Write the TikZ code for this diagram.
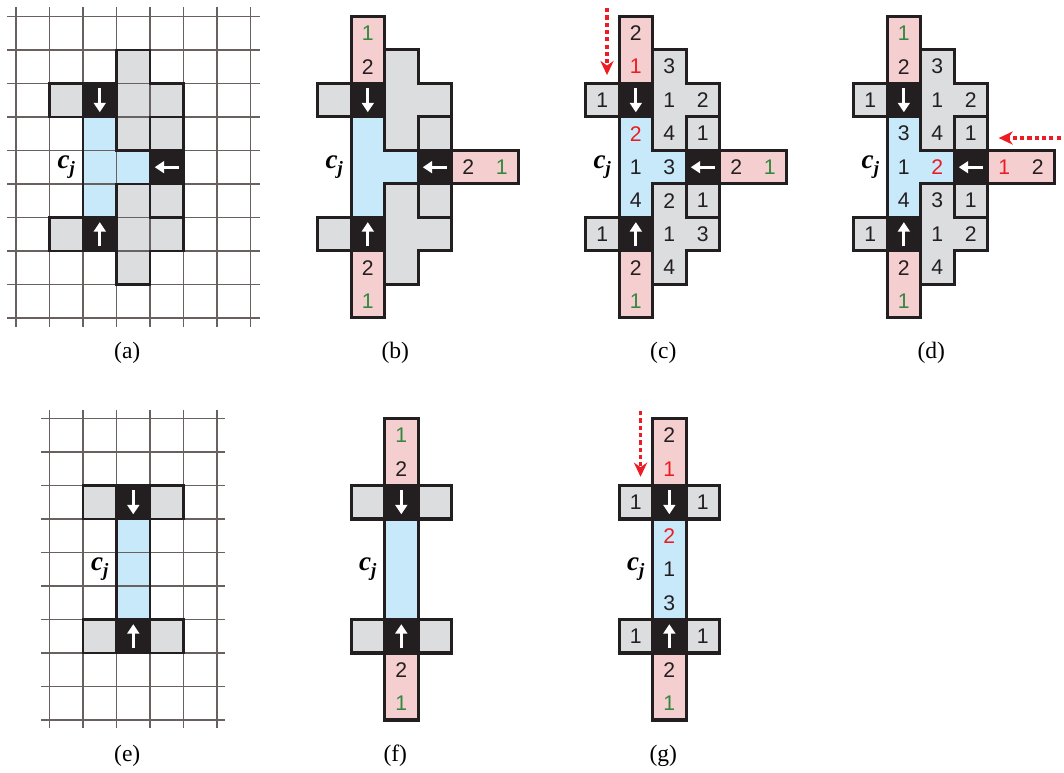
\documentclass[tikz,border=0pt]{standalone}
\usepackage{fontspec}
\setmainfont{Liberation Serif}
\setsansfont{Liberation Sans}
\usetikzlibrary{arrows.meta}
\definecolor{ink}{RGB}{35,31,32}
\definecolor{cellgray}{RGB}{220,221,223}
\definecolor{cellblue}{RGB}{199,233,249}
\definecolor{cellpink}{RGB}{245,206,207}
\definecolor{numgreen}{RGB}{52,135,62}
\definecolor{numred}{RGB}{237,28,36}
\definecolor{gridgray}{RGB}{105,96,96}
% cell regions, in cells, relative to the panel corner
\newcommand\tshapegray{(1,2) rectangle (2,3) (1,6) rectangle (2,7) (4,3) rectangle (5,4) (4,5) rectangle (5,6)
  (3,1) -- (4,1) -- (4,2) -- (5,2) -- (5,3) -- (4,3) -- (4,4) -- (3,4) -- cycle
  (3,5) -- (4,5) -- (4,6) -- (5,6) -- (5,7) -- (4,7) -- (4,8) -- (3,8) -- cycle}
\newcommand\tshapeblue{(2,3) -- (3,3) -- (3,4) -- (4,4) -- (4,5) -- (3,5) -- (3,6) -- (2,6) -- cycle}
\newcommand\tshapeblack{(2,2) rectangle (3,3) (4,4) rectangle (5,5) (2,6) rectangle (3,7)}
\newcommand\tshapepink{(2,0) rectangle (3,2) (5,4) rectangle (7,5) (2,7) rectangle (3,9)}
\newcommand\ishapegray{(2,2) rectangle (3,3) (4,2) rectangle (5,3) (2,6) rectangle (3,7) (4,6) rectangle (5,7)}
\newcommand\ishapeblue{(3,3) rectangle (4,6)}
\newcommand\ishapeblack{(3,2) rectangle (4,3) (3,6) rectangle (4,7)}
\newcommand\ishapepink{(3,0) rectangle (4,2) (3,7) rectangle (4,9)}
\newcommand\cjlabel{c\raisebox{-0.45ex}{\fontsize{8}{9}\selectfont j}}
\tikzset{
  >={Stealth[length=6pt,width=5.6pt]},
  wall/.style={draw=ink,line width=1.3pt,line join=miter},
  gridline/.style={draw=gridgray,line width=0.6pt},
  num/.style={font=\sffamily\fontsize{9}{11}\selectfont,text=#1,inner sep=0pt},
  num/.default=ink,
  tag/.style={font=\fontsize{10}{12}\selectfont,inner sep=0pt},
  cj/.style={font=\rmfamily\fontsize{11.5}{13}\selectfont\bfseries\itshape,inner sep=0pt},
  way/.style={-{Triangle[length=4pt,width=5pt]},draw=white,line width=1.3pt},
  hint/.style={->,draw=numred,line width=1.6pt,dash pattern=on 1.8pt off 1.3pt},
}

\begin{document}
\begin{tikzpicture}[x=0.5cm,y=-0.5cm]
  \useasboundingbox (-0.478,-0.49) rectangle (31.28,22.58);
  % top row: (a)-(d)
  \foreach \ox/\lab in {0/a,8/b,16/c,24/d}{
    \begin{scope}[shift={(\ox,0)}]
      \fill[cellgray] \tshapegray;
      \fill[cellblue] \tshapeblue;
      \fill[ink] \tshapeblack;
      \ifnum\ox=0
        \foreach \i in {0,...,7} \draw[gridline] (\i,-0.27) -- (\i,9.27);
        \foreach \j in {0,...,9} \draw[gridline] (-0.27,\j) -- (7.27,\j);
        \draw[wall,line width=0.95pt] \tshapegray \tshapeblue \tshapeblack;
      \else
        \fill[cellpink] \tshapepink;
        \draw[wall] \tshapegray \tshapeblue \tshapeblack \tshapepink;
      \fi
      \draw[way] (2.5,2.14) -- (2.5,2.86);
      \draw[way] (4.86,4.5) -- (4.14,4.5);
      \draw[way] (2.5,6.86) -- (2.5,6.14);
      \node[cj] (cj-\lab) at (1.5,4.5) {\cjlabel};
      \node[tag] (tag-\lab) at (3.32,10.03) {(\lab)};
    \end{scope}
  }
  % bottom row: (e)-(g)
  \foreach \ox/\lab in {0/e,8/f,16/g}{
    \begin{scope}[shift={(\ox,12)}]
      \fill[cellgray] \ishapegray;
      \fill[cellblue] \ishapeblue;
      \fill[ink] \ishapeblack;
      \ifnum\ox=0
        \foreach \i in {1,...,6} \draw[gridline] (\i,-0.25) -- (\i,9.25);
        \foreach \j in {0,...,9} \draw[gridline] (0.75,\j) -- (6.25,\j);
        \draw[wall,line width=0.95pt] \ishapegray \ishapeblue \ishapeblack;
      \else
        \fill[cellpink] \ishapepink;
        \draw[wall] \ishapegray \ishapeblue \ishapeblack \ishapepink;
      \fi
      \draw[way] (3.5,2.14) -- (3.5,2.86);
      \draw[way] (3.5,6.86) -- (3.5,6.14);
      \node[cj] (cj-\lab) at (2.5,4.5) {\cjlabel};
      \node[tag] (tag-\lab) at (3.32,10.07) {(\lab)};
    \end{scope}
  }
  % cell values
  \begin{scope}[shift={(8,0)}]
    \foreach \x/\y/\n/\c in {2/0/1/numgreen,2/1/2/ink,5/4/2/ink,6/4/1/numgreen,2/7/2/ink,2/8/1/numgreen}
      \node[num=\c] (b-\x-\y) at (\x+0.5,\y+0.5) {\n};
  \end{scope}
  \begin{scope}[shift={(16,0)}]
    \foreach \x/\y/\n/\c in {2/0/2/ink,2/1/1/numred,1/2/1/ink,3/1/3/ink,3/2/1/ink,4/2/2/ink,3/3/4/ink,4/3/1/ink,
      2/3/2/numred,2/4/1/ink,3/4/3/ink,2/5/4/ink,5/4/2/ink,6/4/1/numgreen,4/5/1/ink,3/5/2/ink,
      3/6/1/ink,4/6/3/ink,3/7/4/ink,1/6/1/ink,2/7/2/ink,2/8/1/numgreen}
      \node[num=\c] (c-\x-\y) at (\x+0.5,\y+0.5) {\n};
    \coordinate (c-from) at (1.64,-0.25);
    \coordinate (c-to) at (1.64,1.75);
    \draw[hint] (c-from) -- (c-to);
  \end{scope}
  \begin{scope}[shift={(24,0)}]
    \foreach \x/\y/\n/\c in {2/0/1/numgreen,2/1/2/ink,1/2/1/ink,3/1/3/ink,3/2/1/ink,4/2/2/ink,3/3/4/ink,4/3/1/ink,
      2/3/3/ink,2/4/1/ink,3/4/2/numred,2/5/4/ink,5/4/1/numred,6/4/2/ink,4/5/1/ink,3/5/3/ink,
      3/6/1/ink,4/6/2/ink,3/7/4/ink,1/6/1/ink,2/7/2/ink,2/8/1/numgreen}
      \node[num=\c] (d-\x-\y) at (\x+0.5,\y+0.5) {\n};
    \coordinate (d-from) at (7.4,3.63);
    \coordinate (d-to) at (5.33,3.63);
    \draw[hint] (d-from) -- (d-to);
  \end{scope}
  \begin{scope}[shift={(8,12)}]
    \foreach \x/\y/\n/\c in {3/0/1/numgreen,3/1/2/ink,3/7/2/ink,3/8/1/numgreen}
      \node[num=\c] (f-\x-\y) at (\x+0.5,\y+0.5) {\n};
  \end{scope}
  \begin{scope}[shift={(16,12)}]
    \foreach \x/\y/\n/\c in {3/0/2/ink,3/1/1/numred,2/2/1/ink,4/2/1/ink,3/3/2/numred,3/4/1/ink,3/5/3/ink,
      2/6/1/ink,4/6/1/ink,3/7/2/ink,3/8/1/numgreen}
      \node[num=\c] (g-\x-\y) at (\x+0.5,\y+0.5) {\n};
    \coordinate (g-from) at (2.64,-0.22);
    \coordinate (g-to) at (2.64,1.74);
    \draw[hint] (g-from) -- (g-to);
  \end{scope}
\end{tikzpicture}
\end{document}
